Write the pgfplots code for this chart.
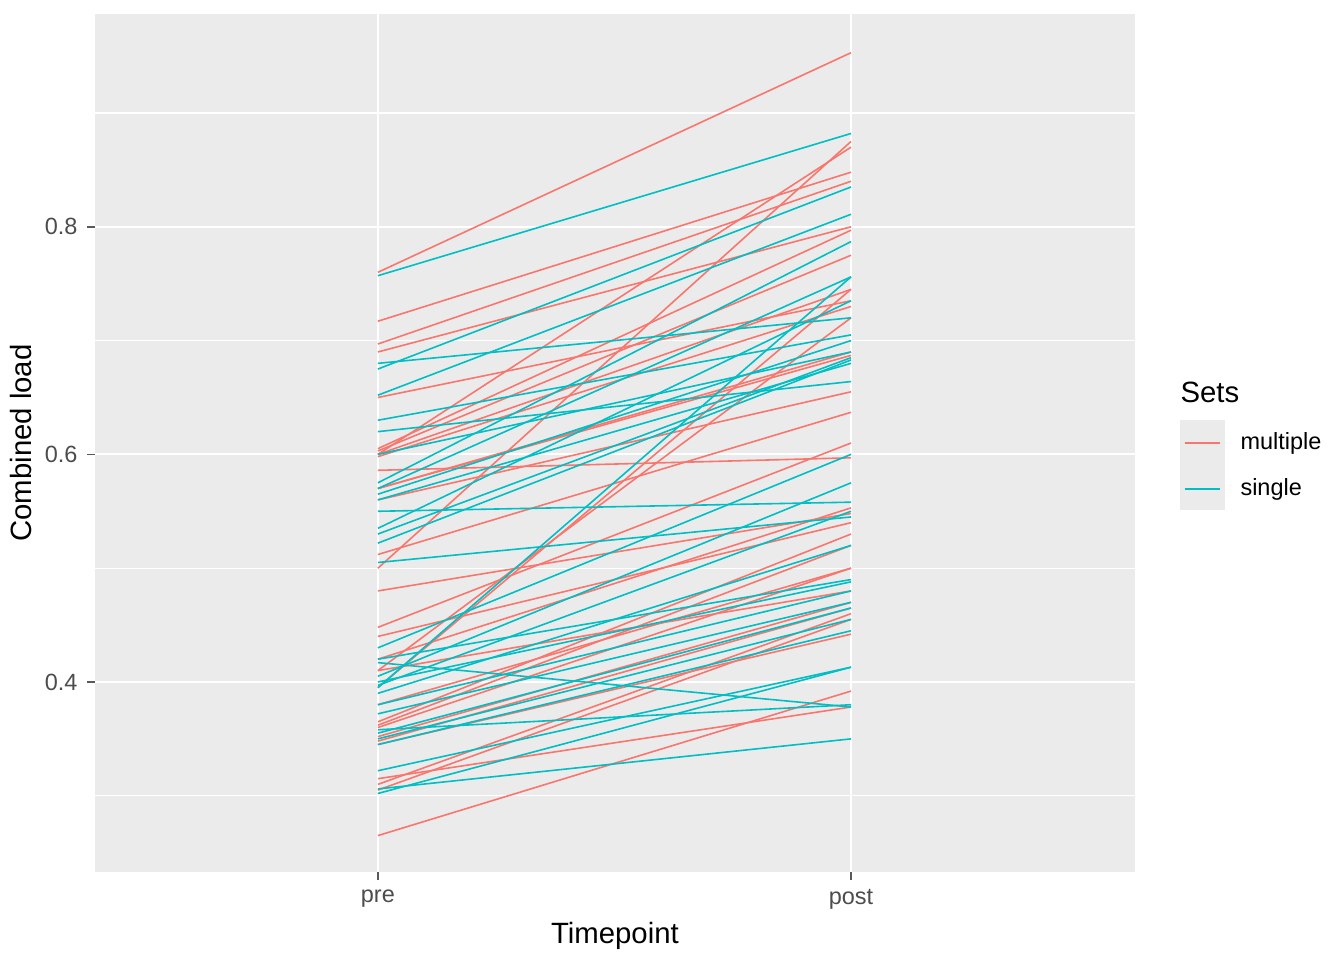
\documentclass[border=0pt]{standalone}
\usepackage{pgfplots}
\pgfplotsset{compat=1.18}
\usepackage{fontspec}
\setmainfont{Liberation Sans}
\definecolor{red1}{HTML}{F8766D}
\definecolor{blue1}{HTML}{00BFC4}
\definecolor{panel}{HTML}{EBEBEB}
\newcommand{\R}[2]{\addplot[red1,line width=0.6pt,forget plot] coordinates {(1,#1) (2,#2)};}
\newcommand{\B}[2]{\addplot[blue1,line width=0.6pt,forget plot] coordinates {(1,#1) (2,#2)};}
\begin{document}
\begin{tikzpicture}
\begin{axis}[at={(0,0)},anchor=south west,scale only axis,width=390pt,height=321.75pt,
 xmin=0.402,xmax=2.6,ymin=0.233,ymax=0.987,
 axis background/.style={fill=panel},axis line style={draw=none},
 xtick={1,2},xticklabels={pre,post},ytick={0.4,0.6,0.8},
 yticklabels={0.4,0.6,0.8},
 minor ytick={0.3,0.5,0.7,0.9},
 xtick pos=bottom,ytick pos=left,
 grid=both,major grid style={white,line width=0.8pt},minor grid style={white,line width=0.4pt},
 tick style={gray!70!black,line width=0.6pt},tick align=outside,major tick length=3pt,minor tick length=0pt,
 ticklabel style={font=\fontsize{8.8}{10}\selectfont,text=black!70},
 xlabel={Timepoint},ylabel={Combined load},label style={font=\fontsize{11}{13}\selectfont},
 ylabel style={yshift=-2pt},xlabel style={yshift=2pt}]
\R{0.760}{0.953}\R{0.717}{0.848}\R{0.697}{0.840}\R{0.690}{0.800}\R{0.650}{0.735}
\R{0.605}{0.797}\R{0.603}{0.775}\R{0.600}{0.745}\R{0.598}{0.730}\R{0.570}{0.687}
\R{0.560}{0.655}\R{0.586}{0.597}\R{0.512}{0.637}\R{0.500}{0.875}\R{0.480}{0.548}
\R{0.448}{0.610}\R{0.440}{0.540}\R{0.420}{0.553}\R{0.410}{0.720}\R{0.395}{0.745}
\R{0.380}{0.500}\R{0.365}{0.530}\R{0.362}{0.520}\R{0.360}{0.500}\R{0.352}{0.470}
\R{0.348}{0.465}\R{0.345}{0.442}\R{0.315}{0.378}\R{0.310}{0.460}\R{0.305}{0.455}
\R{0.265}{0.392}\R{0.570}{0.690}\R{0.600}{0.870}\R{0.410}{0.480}
\B{0.757}{0.882}\B{0.675}{0.835}\B{0.680}{0.720}\B{0.652}{0.811}\B{0.630}{0.705}
\B{0.620}{0.664}\B{0.600}{0.690}\B{0.575}{0.787}\B{0.570}{0.756}\B{0.565}{0.700}
\B{0.560}{0.680}\B{0.550}{0.558}\B{0.535}{0.735}\B{0.530}{0.685}\B{0.522}{0.683}
\B{0.505}{0.545}\B{0.430}{0.600}\B{0.420}{0.490}\B{0.417}{0.378}\B{0.405}{0.575}
\B{0.397}{0.550}\B{0.390}{0.520}\B{0.380}{0.480}\B{0.372}{0.470}\B{0.355}{0.465}
\B{0.350}{0.455}\B{0.345}{0.445}\B{0.322}{0.413}\B{0.306}{0.350}\B{0.302}{0.413}
\B{0.395}{0.756}\B{0.400}{0.488}\B{0.358}{0.380}
\end{axis}
\fill[panel] (406.9pt,135.75pt) rectangle (423.75pt,169.5pt);
\draw[red1,line width=0.6pt] (408.75pt,160.9pt) -- (421.9pt,160.9pt);
\draw[blue1,line width=0.6pt] (408.75pt,143.6pt) -- (421.9pt,143.6pt);
\node[anchor=west,inner sep=0,font=\fontsize{8.8}{10}\selectfont] at (429.4pt,160.9pt) {multiple};
\node[anchor=west,inner sep=0,font=\fontsize{8.8}{10}\selectfont] at (429.4pt,143.6pt) {single};
\node[anchor=west,inner sep=0,font=\fontsize{11}{13}\selectfont] at (406.9pt,180pt) {Sets};
\pgfresetboundingbox
\path (-35.6pt,-33pt) rectangle (468.4pt,327pt);
\end{tikzpicture}
\end{document}
